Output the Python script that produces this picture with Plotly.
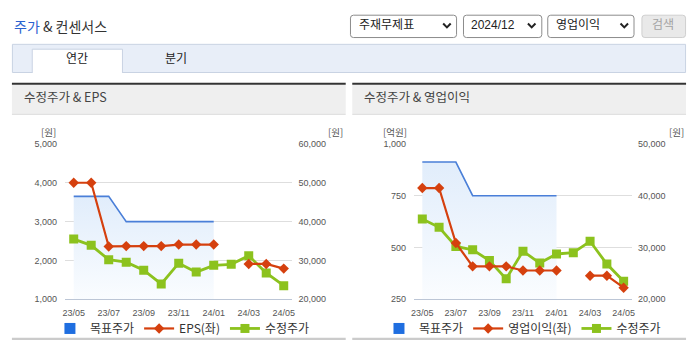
import plotly.graph_objects as go

W, H = 695, 349

# ---------------- data ----------------
months = ["23/05", "23/06", "23/07", "23/08", "23/09", "23/10", "23/11",
          "23/12", "24/01", "24/02", "24/03", "24/04", "24/05"]
tick_labels = ["23/05", "23/07", "23/09", "23/11", "24/01", "24/03", "24/05"]

target_price = [46500, 46500, 46500, 40000, 40000, 40000, 40000, 40000, 40000,
                None, None, None, None]
eps = [4000, 4000, 2360, 2370, 2370, 2370, 2410, 2410, 2410, None, 1910, 1910, 1790]
op_profit = [787, 787, 522, 409, 409, 409, 389, 389, 389, None, 364, 364, 306]
adj_price = [35500, 33900, 30200, 29550, 27500, 23950, 29300, 27000, 28750,
             29000, 31200, 26800, 23500]

eps_range = [1000, 5000]
eps_price_range = [20000, 60000]
op_range = [250, 1000]
op_price_range = [20000, 50000]

BLUE_LINE = "#4a7fd8"
BLUE_LEG = "#1f6ee0"
RED = "#d5400e"
GREEN = "#8cc21e"
AXIS_C = "#bcc6d6"
GRID_C = "#dedede"
TICK_FONT = dict(family="Liberation Sans, Arial", size=9, color="#555")
KR = "Noto Sans CJK KR, Noto Sans, sans-serif"


def fx(x):
    return x / W


def fy(y):
    return 1 - y / H


def P(x, y):
    return f"{x / W:.5f},{1 - y / H:.5f}"


def rrect(x0, y0, x1, y1, r):
    return (f"M{P(x0 + r, y0)} L{P(x1 - r, y0)} Q{P(x1, y0)} {P(x1, y0 + r)} "
            f"L{P(x1, y1 - r)} Q{P(x1, y1)} {P(x1 - r, y1)} L{P(x0 + r, y1)} "
            f"Q{P(x0, y1)} {P(x0, y1 - r)} L{P(x0, y0 + r)} Q{P(x0, y0)} {P(x0 + r, y0)} Z")


fig = go.Figure()


def add_chart(xa, ya_price, ya_left, leg, left_vals, left_name, price_range):
    # target price area (price axis = base subplot, drawn first)
    fig.add_trace(go.Scatter(
        x=months, y=target_price, xaxis=xa, yaxis=ya_price, mode="lines",
        line=dict(color=BLUE_LINE, width=1.6), fill="tozeroy",
        fillgradient=dict(type="vertical",
                          colorscale=[[0, "rgba(251,253,255,1)"], [1, "rgba(225,237,251,1)"]],
                          start=price_range[0],
                          stop=max(v for v in target_price if v is not None)),
        showlegend=False, hoverinfo="skip", connectgaps=False))
    # legend entry for target price
    fig.add_trace(go.Scatter(
        x=[None], y=[None], xaxis=xa, yaxis=ya_price, mode="markers",
        marker=dict(symbol="square", size=11, color=BLUE_LEG),
        name="목표주가", legend=leg, legendrank=1))
    fig.add_trace(go.Scatter(
        x=months, y=adj_price, xaxis=xa, yaxis=ya_price, mode="lines+markers",
        line=dict(color=GREEN, width=2.8),
        marker=dict(symbol="square", size=9, color=GREEN),
        name="수정주가", legend=leg, legendrank=3))
    fig.add_trace(go.Scatter(
        x=months, y=left_vals, xaxis=xa, yaxis=ya_left, mode="lines+markers",
        line=dict(color=RED, width=2.2),
        marker=dict(symbol="diamond", size=8, color=RED),
        name=left_name, legend=leg, legendrank=2, connectgaps=False))


add_chart("x", "y", "y2", "legend", eps, "EPS(좌)", eps_price_range)
add_chart("x2", "y3", "y4", "legend2", op_profit, "영업이익(좌)", op_price_range)

ydom = [fy(303), fy(143)]
boundaries = [-0.5] + [i + 0.5 for i in range(0, len(months), 2)]


def xaxis_main(dom, anchor):
    return dict(domain=dom, anchor=anchor, type="category", range=[-0.5, len(months) - 0.5],
                tickmode="array", tickvals=tick_labels, ticktext=tick_labels,
                showline=True, linecolor=AXIS_C, linewidth=1, ticks="",
                ticklabelstandoff=5,
                showgrid=False, zeroline=False, tickfont=TICK_FONT, fixedrange=True)


def xaxis_ticks(over, anchor):
    return dict(overlaying=over, anchor=anchor, type="linear", range=[-0.5, len(months) - 0.5],
                tickmode="array", tickvals=boundaries, ticks="outside", ticklen=5,
                tickcolor=AXIS_C, showticklabels=False, showgrid=False, showline=False,
                zeroline=False, fixedrange=True)


def yaxis_price(anchor, rng):
    return dict(domain=ydom, anchor=anchor, side="right", range=rng, dtick=10000,
                tickformat=",d", showgrid=False, zeroline=False, showline=False,
                ticks="", ticklabelstandoff=5, tickfont=TICK_FONT, fixedrange=True)


def yaxis_left(over, anchor, rng, dtick):
    return dict(overlaying=over, anchor=anchor, side="left", range=rng, dtick=dtick,
                tickformat=",d", showgrid=True, gridcolor=GRID_C, gridwidth=1,
                zeroline=False, showline=False, ticks="", ticklabelstandoff=7,
                tickfont=TICK_FONT, fixedrange=True)


shapes = []
# dropdowns
for (x0, x1) in [(350.5, 457.5), (464.5, 543.5), (549.5, 636.5)]:
    shapes.append(dict(type="path", xref="paper", yref="paper", path=rrect(x0, 10.5, x1, 33.5, 3),
                       line=dict(color="#8c8c8c", width=1), fillcolor="white", layer="below"))
# search button
shapes.append(dict(type="path", xref="paper", yref="paper", path=rrect(644.5, 10.5, 688.5, 33.5, 3),
                   line=dict(color="#cfcfcf", width=1), fillcolor="#e9e9e9", layer="below"))
# chevrons
for cx in [447.8, 533.3, 626.7]:
    shapes.append(dict(type="path", xref="paper", yref="paper",
                       path=f"M{P(cx - 3.8, 19)} L{P(cx, 23)} L{P(cx + 3.8, 19)}",
                       line=dict(color="#222", width=2), fillcolor="rgba(0,0,0,0)"))
# tab bar
shapes.append(dict(type="rect", xref="paper", yref="paper", x0=fx(9.5), x1=fx(688.5),
                   y0=fy(69.5), y1=fy(40.5), line=dict(color="#c9d3e3", width=1),
                   fillcolor="#e8eef8", layer="below"))
shapes.append(dict(type="path", xref="paper", yref="paper",
                   path=f"M{P(29.5, 70)} L{P(29.5, 45.5)} L{P(120.5, 45.5)} L{P(120.5, 70)}",
                   line=dict(color="#c9d3e3", width=1), fillcolor="white", layer="below"))
# panels
for (x0, x1) in [(9, 345.7), (352.3, 689)]:
    shapes.append(dict(type="rect", xref="paper", yref="paper", x0=fx(x0), x1=fx(x1),
                       y0=fy(112), y1=fy(82), line=dict(width=0), fillcolor="#efefef", layer="below"))
    shapes.append(dict(type="rect", xref="paper", yref="paper", x0=fx(x0), x1=fx(x1),
                       y0=fy(82), y1=fy(80), line=dict(width=0), fillcolor="#333333", layer="below"))
    shapes.append(dict(type="line", xref="paper", yref="paper", x0=fx(x0), x1=fx(x1),
                       y0=fy(112.5), y1=fy(112.5), line=dict(color="#d9d9d9", width=1), layer="below"))
    shapes.append(dict(type="rect", xref="paper", yref="paper", x0=fx(x0), x1=fx(x1),
                       y0=fy(345), y1=fy(342.5), line=dict(width=0), fillcolor="#cbcbcb", layer="below"))

annotations = []


def note(text, x, y, size, color, anchor="left", family=KR):
    annotations.append(dict(text=text, x=fx(x), y=fy(y), xref="paper", yref="paper",
                            xanchor=anchor, yanchor="middle", showarrow=False,
                            font=dict(family=family, size=size, color=color)))


note('<span style="color:#2a62d0">주가</span> &amp; 컨센서스', 9, 22, 14, "#333")
note("주재무제표", 357, 19, 12, "#222")
note("2024/12", 470, 21, 12, "#222", family="Liberation Sans, Arial")
note("영업이익", 556, 19, 12, "#222")
note("검색", 666, 19, 12, "#a3a3a3", anchor="center")
note("연간", 75, 54, 12, "#222", anchor="center")
note("분기", 175, 54, 12, "#222", anchor="center")
note("수정주가 &amp; EPS", 19, 94, 12.5, "#444")
note("수정주가 &amp; 영업이익", 362, 94, 12.5, "#444")
note("[원]", 46, 131, 9.5, "#555", anchor="center")
note("[원]", 335, 131, 9.5, "#555", anchor="center")
note("[억원]", 395, 131, 9.5, "#555", anchor="center")
note("[원]", 679, 131, 9.5, "#555", anchor="center")

legend_common = dict(orientation="h", yanchor="middle", y=fy(333), xanchor="center",
                     font=dict(family=KR, size=12, color="#333"), itemwidth=30,
                     bgcolor="rgba(0,0,0,0)", traceorder="normal")

fig.update_layout(
    width=W, height=H, margin=dict(l=0, r=0, t=0, b=0),
    paper_bgcolor="white", plot_bgcolor="rgba(0,0,0,0)",
    font=dict(family=KR, color="#333"),
    xaxis=xaxis_main([fx(62.5), fx(292)], "y"),
    xaxis2=xaxis_main([fx(414.5), fx(634.5)], "y3"),
    xaxis3=xaxis_ticks("x", "y"),
    xaxis4=xaxis_ticks("x2", "y3"),
    yaxis=yaxis_price("x", eps_price_range),
    yaxis2=yaxis_left("y", "x", eps_range, 1000),
    yaxis3=yaxis_price("x2", op_price_range),
    yaxis4=yaxis_left("y3", "x2", op_range, 250),
    legend=dict(legend_common, x=fx(181)),
    legend2=dict(legend_common, x=fx(524)),
    shapes=shapes, annotations=annotations,
    hovermode=False,
)

fig.write_html("out.html", config={"displayModeBar": False})
